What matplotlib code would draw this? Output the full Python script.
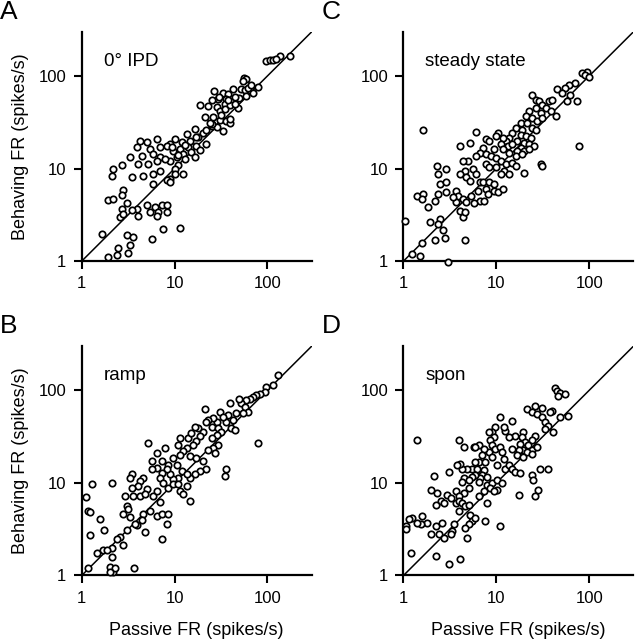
import matplotlib
matplotlib.use('Agg')
from matplotlib import pyplot as plt

plt.rcParams['font.family'] = ['Liberation Sans', 'DejaVu Sans']
plt.rcParams['font.size'] = 12

# panel A: 0 deg IPD
passive_a = [97.5, 106, 115, 136, 174, 125, 56, 59, 55, 43, 52, 57, 70, 26.5, 33, 38, 29.5, 25, 36, 50,
             59, 18.7, 23, 28.3, 34.8, 43, 48, 30.7, 21.2, 27.2, 30.7, 36, 39.4, 25, 28.3, 33, 39.4, 25,
             16.5, 13.5, 18, 14.6, 10.1, 11.9, 8.9, 14, 17.2, 22, 11.4, 9.7, 12.4, 15.2, 10.5, 12.9, 16.5,
             8.9, 10.9, 10.1, 12.4, 10.1, 8.9, 8.2, 4.24, 5.0, 6.4, 3.9, 5.43, 6.95, 8.2, 3.31, 4.42, 5.9,
             6.95, 4.07, 5.21, 6.4, 7.87, 2.69, 2.19, 2.10, 3.45, 4.6, 5.9, 6.95, 5.9, 8.9, 2.81, 2.69,
             1.94, 2.19, 3.05, 2.69, 3.9, 3.45, 5.0, 6.15, 7.25, 8.2, 6.67, 8.2, 5.43, 4.07, 2.58, 2.81,
             6.4, 7.55, 11.4, 5.66, 3.05, 3.59, 1.64, 3.31, 2.48, 3.18, 2.38, 1.94,
             17, 19, 13, 11, 9.5, 20, 22, 24, 26, 32, 35, 40, 45, 62, 45, 30, 38, 66, 80]
behaving_a = [145, 147, 147, 164, 164, 151, 94, 92, 88, 72, 72, 70, 66, 68, 66, 63.5, 56, 55, 56, 58.5,
              61, 48.8, 47.6, 46.4, 49.6, 53.8, 45.6, 42, 35.6, 32.8, 33.4, 32.8, 30.7, 29, 27.8, 25.6, 34.2, 30.2,
              26.7, 23.6, 21.7, 20, 20.8, 19.2, 18.4, 17, 17.7, 18.4, 16.3, 15.6, 14.4, 15, 13.2, 12.7, 13.2,
              12.2, 10.8, 9.9, 8.77, 8.77, 7.74, 7.43, 20, 19.2, 20.8, 17, 16.3, 17, 17.7, 13.2, 13.8, 14.4,
              13.2, 11.2, 11.2, 12.2, 12.7, 10.8, 9.9, 8.41, 8.1, 8.41, 8.77, 9.52, 6.84, 7.13, 5.8, 5.12,
              4.6, 4.72, 4.24, 3.68, 3.68, 3.54, 4.0, 3.84, 4.0, 4.0, 3.39, 3.39, 3.39, 3.05, 3.0, 3.26,
              3.05, 2.25, 2.3, 1.75, 1.9, 1.83, 1.95, 1.49, 1.40, 1.21, 1.16, 1.11,
              22, 16, 18, 14, 17, 24, 26, 31, 36, 38, 44, 48, 50, 75, 60, 60, 55, 80, 76]

# panel B: ramp
passive_b = [130, 115, 97.5, 93.6, 82.7, 76.2, 70, 64.6, 59, 52, 50, 57, 62, 55, 46.4, 39.4, 38, 43, 36,
             41, 44.6, 30.7, 33, 28.3, 26.1, 23, 21.2, 22, 25, 29.5, 32, 28.3, 25, 29.5, 26.1, 23, 27.2,
             79.4, 36, 34.8, 20.3, 18, 16.5, 18.7, 17.2, 15.9, 14, 15.2, 13.5, 11.4, 10.9, 12.4, 14.6,
             17.2, 20.3, 22, 18.7, 16.5, 14.6, 11.4, 9.7, 8.55, 10.5, 11.9, 13.5, 10.9, 9.7, 8.9, 8.2,
             7.25, 6.4, 5.66, 7.87, 5.21, 6.4, 7.25, 6.95, 7.55, 8.55, 9.7, 10.9, 11.4, 13.5, 12.4, 14.6,
             5.66, 4.6, 4.24, 3.45, 3.31, 4.07, 5.0, 3.45, 2.92, 3.59, 4.24, 4.8, 5.9, 6.4, 6.95, 6.4,
             7.25, 8.55, 8.2, 7.25, 5.43, 4.6, 4.42, 3.9, 4.8, 3.05, 2.81, 3.31, 3.18, 3.74, 3.05, 2.58,
             2.38, 2.81, 2.10, 1.71, 1.45, 1.86, 2.10, 2.02, 2.19, 2.28, 2.02, 1.18, 3.65, 1.28, 2.10,
             1.11, 1.18, 1.23, 1.23, 1.57, 1.74]
behaving_b = [145, 113, 109, 96, 92, 88.4, 84.9, 81.5, 78.2, 72.1, 81.5, 66.4, 58.7, 56.4, 56.4, 72.1, 54.1,
              47.8, 45.9, 39, 37.4, 58.7, 51.9, 45.9, 49.9, 47.8, 62.7, 45.9, 40.6, 39, 35.9, 33.1, 30.5,
              25.9, 23.8, 22.9, 21.1, 27, 14, 11.9, 35.9, 39, 40.6, 31.8, 28.1, 25.9, 30.5, 34.5, 23.8,
              30.5, 25.9, 22, 19.4, 18.6, 17.2, 14, 13.4, 12.4, 11.4, 20.2, 18.6, 15.8, 15.8, 13.4, 12.4,
              11.4, 10.9, 12.4, 14, 17.2, 21.1, 17.2, 23.8, 27, 14.6, 12.9, 11.4, 10.1, 8.91, 9.68, 9.68,
              8.22, 9.29, 7.57, 6.43, 14, 11.4, 10.5, 12.4, 11.4, 9.29, 8.56, 8.91, 7.26, 7.26, 7.26,
              7.57, 7.26, 8.22, 6.17, 4.44, 4.63, 4.63, 3.62, 2.5, 5.02, 4.63, 3.93, 3.48, 2.95, 5.68,
              4.63, 4.26, 5.24, 3.62, 3.07, 2.61, 2.5, 2.13, 1.96, 1.88, 1.73, 1.88, 1.6, 1.25, 1.1, 1.2,
              1.1, 1.2, 1.2, 9.68, 9.9, 6.97, 5.02, 4.82, 2.72, 4.03, 3.07]

# panel C: steady state
passive_c = [94.4, 83.5, 90.6, 98.4, 71, 60.1, 55.4, 45.2, 51.1, 62.7, 57.8, 73.8, 24.4, 26.5, 28.8,
             31.2, 36.8, 39.9, 33.9, 38.4, 43.4, 30, 26.5, 22.5, 20.7, 24.4, 27.6, 31.2, 18.3, 21.6,
             16.2, 19.1, 24.4, 26.5, 14.9, 18.3, 20.7, 23.4, 13.8, 16.9, 19.9, 22.5, 25.4, 12.7, 11.7,
             10.3, 9.9, 11.2, 13.2, 14.9, 18.3, 19.9, 16.9, 9.5, 11.7, 13.8, 16.2, 19.1, 22.5, 7.76,
             8.42, 6.07, 5.15, 4.03, 7.15, 6.59, 6.07, 7.76, 8.77, 9.9, 11.2, 12.7, 14.9, 16.2, 19.9,
             30, 31.2, 76.9, 1.63, 7.76, 8.42, 9.9, 12.2, 11.2, 13.8, 5.59, 4.55, 4.94, 4.37, 4.03,
             4.75, 5.15, 6.07, 6.59, 7.15, 8.42, 7.76, 9.5, 10.3, 11.7, 6.32, 5.37, 6.59, 5.82, 7.45,
             8.08, 9.5, 3.71, 3.87, 4.37, 4.75, 4.03, 2.27, 2.36, 2.90, 2.46, 2.90, 2.36, 2.18, 2.90,
             1.39, 1.63, 1.57, 1.85, 1.92, 2.46, 2.36, 2.67, 2.18, 2.79, 1.57, 1.23, 1.51, 3.02, 4.55,
             4.37, 4.55, 1.04, 3.71, 3.42]
behaving_c = [111, 109, 102.5, 98.4, 83.4, 80.1, 73.8, 72.5, 65.2, 62.6, 53.1, 53.1, 62.6, 55.3, 53.1,
              48.9, 53.1, 55.3, 45.1, 41.5, 36.7, 39.8, 45.1, 41.5, 36.7, 35.2, 32.4, 35.2, 31.1, 31.1,
              27.5, 26.4, 27.5, 26.4, 24.3, 23.3, 22.4, 21.5, 21.5, 19.8, 19, 18.2, 17.5, 19.8, 21.5,
              24.3, 22.4, 18.2, 17.5, 18.2, 16.8, 15.5, 15.5, 16.1, 16.1, 14.8, 13.7, 14.2, 16.1, 20.6,
              19.8, 24.9, 19, 17.5, 16.8, 14.8, 13.7, 14.2, 13.7, 13.1, 12.1, 11.1, 11.6, 10.7, 9.06,
              11.1, 10.7, 17.5, 26.4, 11.1, 10.3, 10.3, 9.44, 8.7, 8.7, 9.84, 9.44, 12.1, 12.1, 8.7,
              8.01, 7.38, 8.7, 7.08, 7.08, 7.08, 6.01, 5.76, 5.53, 6.01, 5.76, 5.1, 4.5, 4.22, 4.5,
              5.31, 6.8, 5.76, 5.1, 4.69, 4.32, 3.52, 10.7, 8.7, 9.84, 6.8, 7.08, 5.31, 4.5, 5.53,
              5.1, 5.31, 4.69, 3.88, 2.64, 2.86, 2.53, 2.18, 1.71, 1.79, 1.57, 1.18, 1.13, 0.99, 1.68,
              2.99, 3.38, 2.71, 4.32, 4.89]

# panel D: spon
passive_d = [42.9, 44.7, 48.5, 54.9, 46.5, 59.6, 48.5, 39.5, 30.9, 26.2, 21.3, 24.1, 27.3, 30.9, 37.9,
             33.5, 36.4, 41.1, 33.5, 26.2, 24.1, 19.6, 18.8, 20.5, 22.2, 18.1, 16, 13.6, 12.5, 11, 14.7,
             9.76, 12, 8.99, 8.28, 9.36, 8.62, 8.99, 9.76, 8.28, 8.99, 11, 11.5, 12, 10.2, 12.5, 13.6,
             14.7, 16, 18.1, 24.1, 27.3, 19.6, 21.3, 17.4, 16.7, 14.7, 19.6, 24.1, 24.1, 25.1, 28.4,
             26.2, 29.6, 36.4, 17.4, 6.47, 5.72, 7.31, 7.02, 6.47, 7.62, 5.96, 5.49, 6.21, 7.31, 7.02,
             7.94, 6.74, 5.96, 5.49, 4.85, 4.29, 4.11, 3.79, 3.08, 2.13, 4.47, 4.29, 5.05, 6.47, 7.94,
             7.31, 6.47, 7.94, 7.62, 11, 8.99, 10.2, 11.5, 10.2, 8.62, 9.36, 5.05, 4.47, 3.64, 3.95,
             2.96, 3.21, 2.51, 2.22, 2.73, 2.31, 1.96, 3.64, 3.95, 4.29, 3.95, 4.65, 5.05, 5.27, 5.49,
             5.96, 5.05, 4.65, 4.85, 3.49, 3.35, 3.21, 2.41, 2.22, 1.96, 2.62, 2.73, 1.81, 1.6, 1.53,
             1.41, 1.25, 1.15, 1.06, 1.06, 1.41, 3.95, 5.96, 4.47, 1.2, 2.22, 3.08, 4.11]
behaving_d = [107, 98.4, 92.9, 90.7, 87, 53.2, 51.1, 60.2, 63.7, 68, 62.7, 57.8, 55.5, 51.1, 57.8, 45.2,
              41.6, 35.3, 38.3, 32.5, 28.8, 35.3, 31.2, 27.6, 25.5, 26.5, 32.5, 31.2, 36.8, 51.1, 47.1,
              39.9, 39.9, 35.3, 35.3, 31.2, 28.8, 25.5, 23.4, 21.6, 19.1, 24.4, 21.6, 18.3, 15.6, 14.3,
              15.6, 14.3, 13.2, 12.7, 22.5, 24.4, 22.5, 21.6, 22.5, 19.9, 23.4, 19.1, 20.7, 12.2, 10.8,
              8.42, 7.15, 14.3, 14.3, 7.45, 25.5, 24.4, 23.4, 19.9, 16.9, 16.9, 16.9, 14.3, 14.3, 13.8,
              12.2, 11.7, 11.2, 12.2, 11.7, 14.3, 14.3, 16.2, 15.6, 13.2, 12, 11.2, 10.3, 10.8, 10.3,
              9.52, 8.08, 7.15, 6.07, 3.87, 3.42, 9.92, 10.8, 9.92, 8.42, 8.77, 8.08, 8.77, 7.76, 8.08,
              7.15, 7.45, 6.86, 6.32, 5.82, 6.07, 7.76, 8.42, 6.07, 6.32, 6.07, 4.94, 5.59, 5.82, 4.55,
              3.87, 4.2, 3.56, 3.28, 2.57, 3.56, 3.02, 2.79, 2.79, 3.42, 2.79, 3.71, 2.57, 3.71, 4.37,
              3.56, 3.71, 4.2, 4.03, 3.42, 3.15, 28.8, 28.8, 24.4, 24.4, 1.77, 1.63, 1.33, 1.51]

list_panels = [
    ('A', '0° IPD', passive_a, behaving_a, [0.1285, 0.592, 0.3616, 0.3583], True, False),
    ('C', 'steady state', passive_c, behaving_c, [0.6344, 0.592, 0.3616, 0.3583], False, False),
    ('B', 'ramp', passive_b, behaving_b, [0.1285, 0.1008, 0.3616, 0.3583], True, True),
    ('D', 'spon', passive_d, behaving_d, [0.6344, 0.1008, 0.3616, 0.3583], False, True),
]

fig = plt.figure(figsize=(6.36, 6.4), dpi=100)

for str_letter, str_title, array_x, array_y, list_pos, bool_ylabel, bool_xlabel in list_panels:
    ax = fig.add_axes(list_pos)
    ax.set_xscale('log')
    ax.set_yscale('log')
    ax.set_xlim(1, 300)
    ax.set_ylim(1, 300)
    ax.axline((1, 1), (10, 10), color='black', lw=1.1, zorder=1)
    ax.plot(array_x, array_y, linestyle='', marker='o', markersize=4.6,
            markerfacecolor='white', markeredgecolor='black', markeredgewidth=1.25,
            clip_on=False, zorder=3)
    ax.set_xticks([1, 10, 100])
    ax.set_yticks([1, 10, 100])
    ax.set_xticklabels(['1', '10', '100'])
    ax.set_yticklabels(['1', '10', '100'])
    ax.minorticks_off()
    ax.tick_params(length=6, width=1.5, labelsize=12, pad=5)
    for str_side in ['top', 'right']:
        ax.spines[str_side].set_visible(False)
    for str_side in ['left', 'bottom']:
        ax.spines[str_side].set_linewidth(1.6)
    ax.text(0.095, 0.87, str_title, transform=ax.transAxes, fontsize=13.5,
            ha='left', va='center')
    if bool_ylabel:
        ax.set_ylabel('Behaving FR (spikes/s)', fontsize=13, labelpad=7)
    if bool_xlabel:
        ax.set_xlabel('Passive FR (spikes/s)', fontsize=13, labelpad=12)
    fig.text(list_pos[0] - 0.128, list_pos[1] + list_pos[3] + 0.05, str_letter,
             fontsize=19, ha='left', va='top')

plt.savefig('out.png', dpi=100)
